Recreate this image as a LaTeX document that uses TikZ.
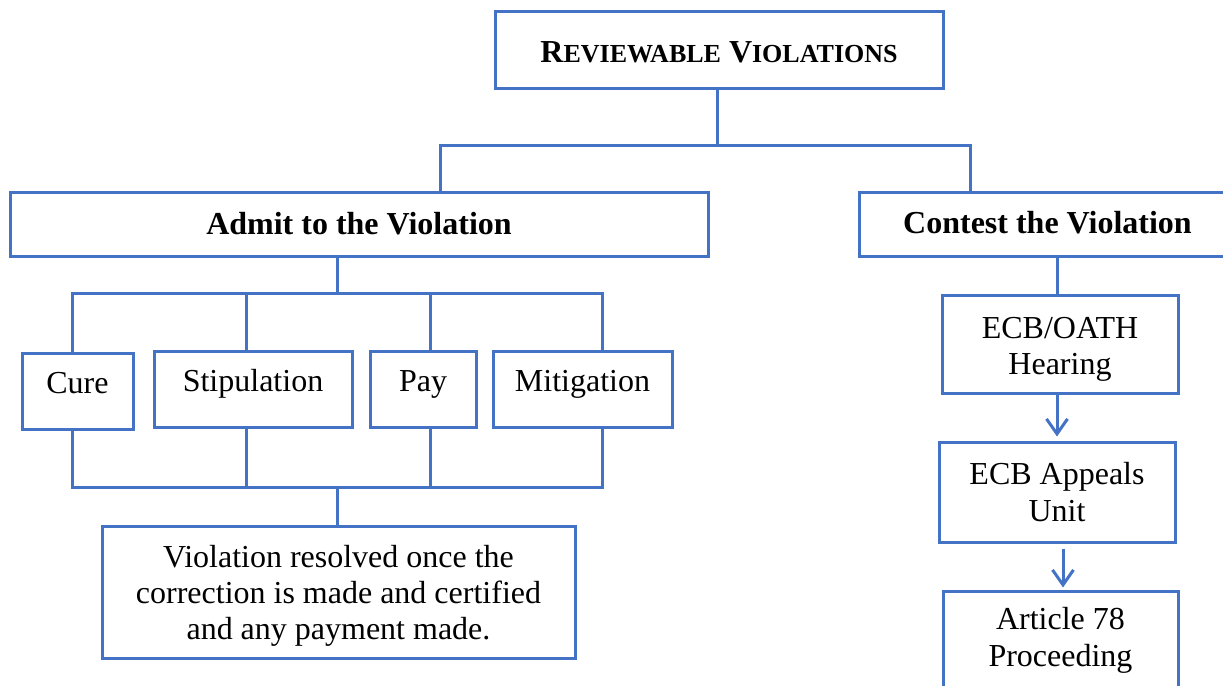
\documentclass[tikz,border=0pt]{standalone}
\usepackage{fontspec}
\setmainfont{Liberation Serif}
\usetikzlibrary{arrows.meta}
\definecolor{bl}{HTML}{4472C4}
\newcommand\mysc[2]{{\fontsize{16}{18}\selectfont #1}{\fontsize{13}{18}\selectfont #2}}
\begin{document}
\begin{tikzpicture}[x=0.5pt,y=-0.5pt,
  box/.style={draw=bl,line width=1.5pt,inner sep=0pt,fill=white,
    font=\fontsize{16}{18.2}\selectfont,align=center},
  sz/.style 2 args={minimum width={#1*0.5pt},minimum height={#2*0.5pt}},
  wire/.style={draw=bl,line width=1.5pt},
  arr/.style={wire,-{Straight Barb[length=7.5pt,width=10.5pt]}}]
\clip (0,0) rectangle (1223,686);
\fill[white] (0,0) rectangle (1223,686);
% boxes
\node[box,sz={448}{77},text height=25.5pt,text depth=13pt] (top) at (719,49.5)
  {\bfseries\mysc{R}{EVIEWABLE} \mysc{V}{IOLATIONS}};
\node[box,sz={698}{64},text height=21pt,text depth=11pt] (admit) at (359,224)
  {\bfseries Admit to the Violation};
\node[box,sz={377}{64},text height=20.5pt,text depth=11.5pt] (contest) at (1047.5,224)
  {\bfseries Contest the Violation};
\node[box,sz={111}{76},text height=20pt,text depth=18pt] (cure) at (77.5,391) {Cure};
\node[box,sz={198}{76},text height=20pt,text depth=18pt] (stip) at (253,389) {Stipulation};
\node[box,sz={106}{76},text height=20pt,text depth=18pt] (pay) at (423,389) {Pay};
\node[box,sz={179}{76},text height=20pt,text depth=18pt] (mit) at (582.5,389) {Mitigation};
\node[box,sz={473}{132}] (result) at (338.5,592)
  {\rule{0pt}{15pt}Violation resolved once the\\correction is made and certified\\and any payment made.};
\node[box,sz={236}{98}] (ecb) at (1060,344) {\rule{0pt}{16pt}ECB/OATH\\Hearing};
\node[box,sz={236}{100}] (appeals) at (1057,492) {ECB Appeals\\Unit};
\node[box,sz={235}{99}] (art) at (1060.5,640.5) {Article 78\\Proceeding};
% bus coordinates
\coordinate (tb) at (717,145);
\coordinate (tl) at (440,145);
\coordinate (tr) at (970,145);
\coordinate (am) at (337,293);
\coordinate (u1) at (72,293);
\coordinate (u2) at (246,293);
\coordinate (u3) at (430,293);
\coordinate (u4) at (602,293);
\coordinate (l1) at (72,487);
\coordinate (l2) at (246,487);
\coordinate (l3) at (430,487);
\coordinate (l4) at (602,487);
\coordinate (lm) at (337,487);
\coordinate (cv) at (1057,275);
% connectors
\draw[wire] (top.south -| tb) -- (tb);
\draw[wire] (admit.north -| tl) -- (tl) -- (tr) -- (contest.north -| tr);
\draw[wire] (admit.south -| am) -- (am);
\draw[wire] (cure.north -| u1) -- (u1) -- (u4) -- (mit.north -| u4);
\draw[wire] (u2) -- (stip.north -| u2);
\draw[wire] (u3) -- (pay.north -| u3);
\draw[wire] (cure.south -| l1) -- (l1) -- (l4) -- (mit.south -| l4);
\draw[wire] (stip.south -| l2) -- (l2);
\draw[wire] (pay.south -| l3) -- (l3);
\draw[wire] (lm) -- (result.north -| lm);
\draw[wire] (contest.south -| cv) -- (ecb.north -| cv);
\draw[arr] ([xshift=-1.5pt]ecb.south) -- ([yshift=2pt]appeals.north);
\draw[arr] ([xshift=3pt,yshift=-2.5pt]appeals.south) -- ([xshift=1.25pt,yshift=1pt]art.north);
\end{tikzpicture}
\end{document}
